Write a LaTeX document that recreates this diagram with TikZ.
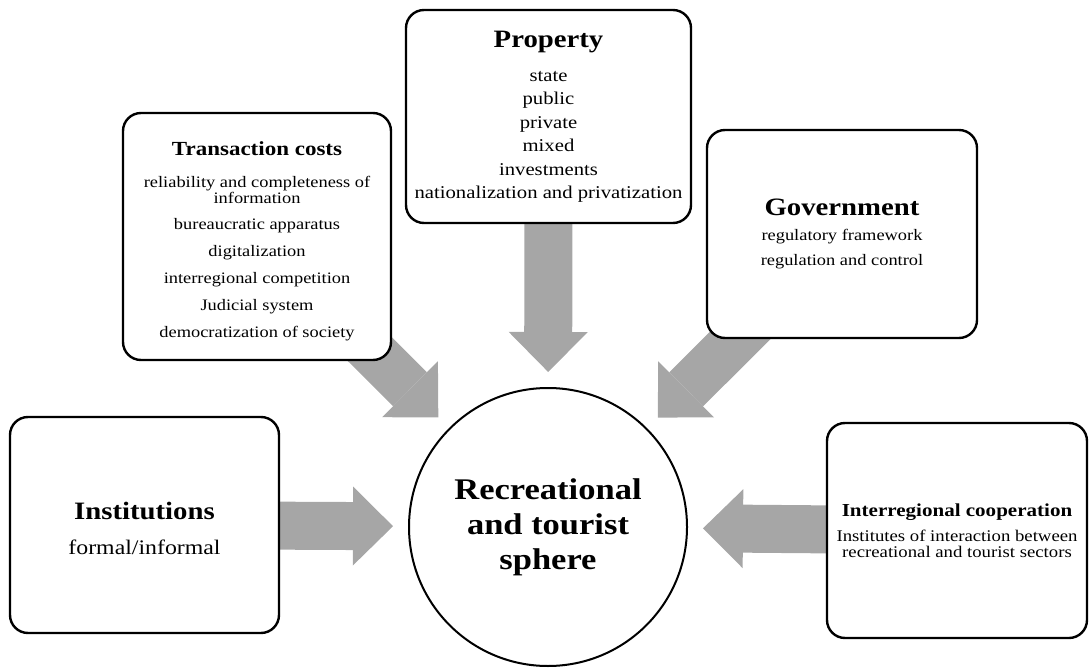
\documentclass[tikz,border=0pt]{standalone}
\usepackage{fontspec}
\setmainfont{Liberation Serif}[FakeStretch=1.15]
\usetikzlibrary{arrows.meta,backgrounds}
\definecolor{arrowgray}{RGB}{166,166,166}
\tikzset{
    factor-box/.style = {draw=black, fill=white, line width=2.4pt, rectangle, rounded corners=18pt, align=center, inner sep=4pt},
    sphere-circle/.style = {draw=black, fill=white, line width=2pt, circle, minimum size=278pt, align=center, inner sep=0pt, font=\fontsize{30}{35}\selectfont\bfseries},
    push-arrow/.style = {draw=arrowgray, line width=48pt, -{Triangle[length=40pt,width=79pt,line width=0pt]}, shorten >=15pt},
}
\begin{document}
\begin{tikzpicture}[x=1pt,y=-1pt]
\useasboundingbox (0,0) rectangle (1089,668);
\node[sphere-circle] (sphere) at (548,527) {Recreational\\and tourist\\sphere};
\node[factor-box, minimum width=268pt, minimum height=247pt, font=\fontsize{16}{16}\selectfont] (costs) at (257,236.5) {\rule{0pt}{24pt}{\fontsize{20}{20}\selectfont\bfseries Transaction costs}\\[16pt]
    reliability and completeness of\\
    information\\[10pt]
    bureaucratic apparatus\\[11pt]
    digitalization\\[11pt]
    interregional competition\\[11pt]
    Judicial system\\[11pt]
    democratization of society};
\node[factor-box, minimum width=285pt, minimum height=213pt, font=\fontsize{18}{23.5}\selectfont] (property) at (548.5,116.5) {{\fontsize{25}{25}\selectfont\bfseries Property}\\[10.5pt]
    state\\ public\\ private\\ mixed\\ investments\\ nationalization and privatization};
\node[factor-box, minimum width=270pt, minimum height=208pt, font=\fontsize{16}{25}\selectfont] (government) at (842,234) {{\fontsize{25}{25}\selectfont\bfseries Government}\\
    regulatory framework\\ regulation and control};
\node[factor-box, minimum width=269pt, minimum height=216pt, font=\fontsize{20.7}{25}\selectfont] (institutions) at (144.5,525) {\rule{0pt}{24pt}{\fontsize{25}{25}\selectfont\bfseries Institutions}\\[10pt]
    formal/informal};
\node[factor-box, minimum width=260pt, minimum height=215pt, font=\fontsize{16.3}{16.5}\selectfont] (cooperation) at (957,530.5) {{\fontsize{18.3}{18.3}\selectfont\bfseries Interregional cooperation}\\[8.5pt]
    Institutes of interaction between\\ recreational and tourist sectors};
% influence arrows behind the boxes
\begin{scope}[on background layer]
\draw[push-arrow] (costs.center) -- (sphere);
\draw[push-arrow] (property.center) -- (sphere);
\draw[push-arrow] (government.center) -- (sphere);
\draw[push-arrow] (institutions.center) -- (sphere);
\draw[push-arrow] (cooperation.center) -- (sphere);
\end{scope}
\end{tikzpicture}
\end{document}
